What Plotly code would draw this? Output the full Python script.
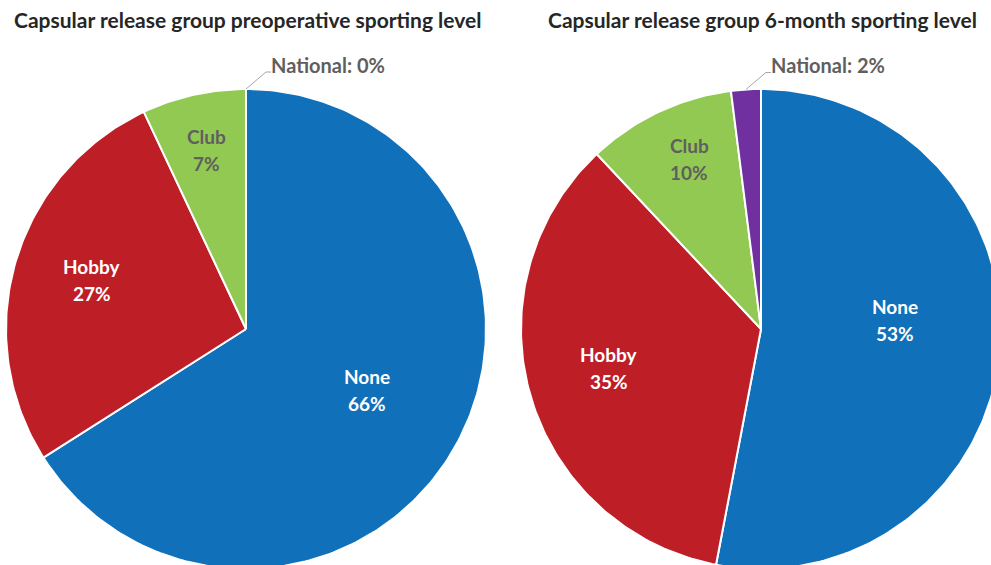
import numpy as np
import plotly.graph_objects as go

# Sporting level shares (%) for the capsular release group
categories = ["None", "Hobby", "Club", "National"]
preop_values = [66, 27, 7, 0]
sixmonth_values = [53, 35, 10, 2]
titles = [
    "Capsular release group preoperative sporting level",
    "Capsular release group 6-month sporting level",
]

# Styling
W, H = 991, 565
colors = {"None": "#1170BA", "Hobby": "#BE1E26", "Club": "#92C953", "National": "#7030A0"}
label_colors = {"None": "white", "Hobby": "white", "Club": "#5F5F5F"}
label_radius = {"None": 0.56, "Hobby": 0.67, "Club": 0.76}
# small per-pie pixel nudges for the inside labels
label_nudge = [
    {"None": (3, -4), "Hobby": (0, -4), "Club": (0, -1)},
    {"None": (0, -22), "Hobby": (2, -6), "Club": (6, -5)},
]
centers = [(246, 329), (761, 329)]
R = 240
FONT = "Lato"
LINE_GAP = 13.5  # half the spacing between a label's two lines

fig = go.Figure()


def polar_xy(cx, cy, r, frac):
    """Clockwise from 12 o'clock; y grows downward on the reversed axis."""
    th = 2 * np.pi * np.asarray(frac)
    return cx + r * np.sin(th), cy - r * np.cos(th)


for (cx, cy), values, title, nudge in zip(
        centers, [preop_values, sixmonth_values], titles, label_nudge):
    total = float(sum(values))
    start = 0.0
    for cat, v in zip(categories, values):
        frac = v / total
        end = start + frac
        n = max(2, int(np.ceil(frac * 360)) + 1)
        ax, ay = polar_xy(cx, cy, R, np.linspace(start, end, n))
        xs = np.concatenate([[cx], ax, [cx]])
        ys = np.concatenate([[cy], ay, [cy]])
        if v > 0:
            fig.add_trace(go.Scatter(
                x=xs, y=ys, mode="lines", fill="toself",
                fillcolor=colors[cat], line=dict(color="white", width=2),
                hoverinfo="skip", showlegend=False,
            ))
        mid = (start + end) / 2
        if cat in label_radius:
            lx, ly = polar_xy(cx, cy, R * label_radius[cat], mid)
            nx, ny = nudge[cat]
            for txt, dy in ((cat, -LINE_GAP), (f"{v}%", LINE_GAP)):
                fig.add_annotation(
                    x=float(lx) + nx, y=float(ly) + ny + dy, xref="x", yref="y",
                    showarrow=False, xanchor="center", yanchor="middle",
                    text=f"<b>{txt}</b>",
                    font=dict(family=FONT, size=19, color=label_colors[cat]),
                )
        else:
            # outside label with an elbow leader line
            rx, ry = polar_xy(cx, cy, R, mid)
            ex, ey = float(rx) + 20, float(ry) - 17
            fig.add_trace(go.Scatter(
                x=[float(rx), ex, ex + 5], y=[float(ry), ey, ey], mode="lines",
                line=dict(color="#A6A6A6", width=1), hoverinfo="skip", showlegend=False,
            ))
            fig.add_annotation(
                x=ex + 3, y=ey - 7, xref="x", yref="y", showarrow=False,
                xanchor="left", yanchor="middle",
                text=f"<b>{cat}: {v}%</b>",
                font=dict(family=FONT, size=20, color="#5F5F5F"),
            )
        start = end
    fig.add_annotation(
        x=cx + 1, y=19, xref="x", yref="y", showarrow=False,
        xanchor="center", yanchor="middle",
        text=f"<b>{title}</b>",
        font=dict(family=FONT, size=21, color="#262626"),
    )

fig.update_xaxes(range=[0, W], visible=False, fixedrange=True)
fig.update_yaxes(range=[H, 0], visible=False, fixedrange=True)
fig.update_layout(
    width=W, height=H, margin=dict(l=0, r=0, t=0, b=0),
    paper_bgcolor="white", plot_bgcolor="white",
)
fig.write_html("out.html")
